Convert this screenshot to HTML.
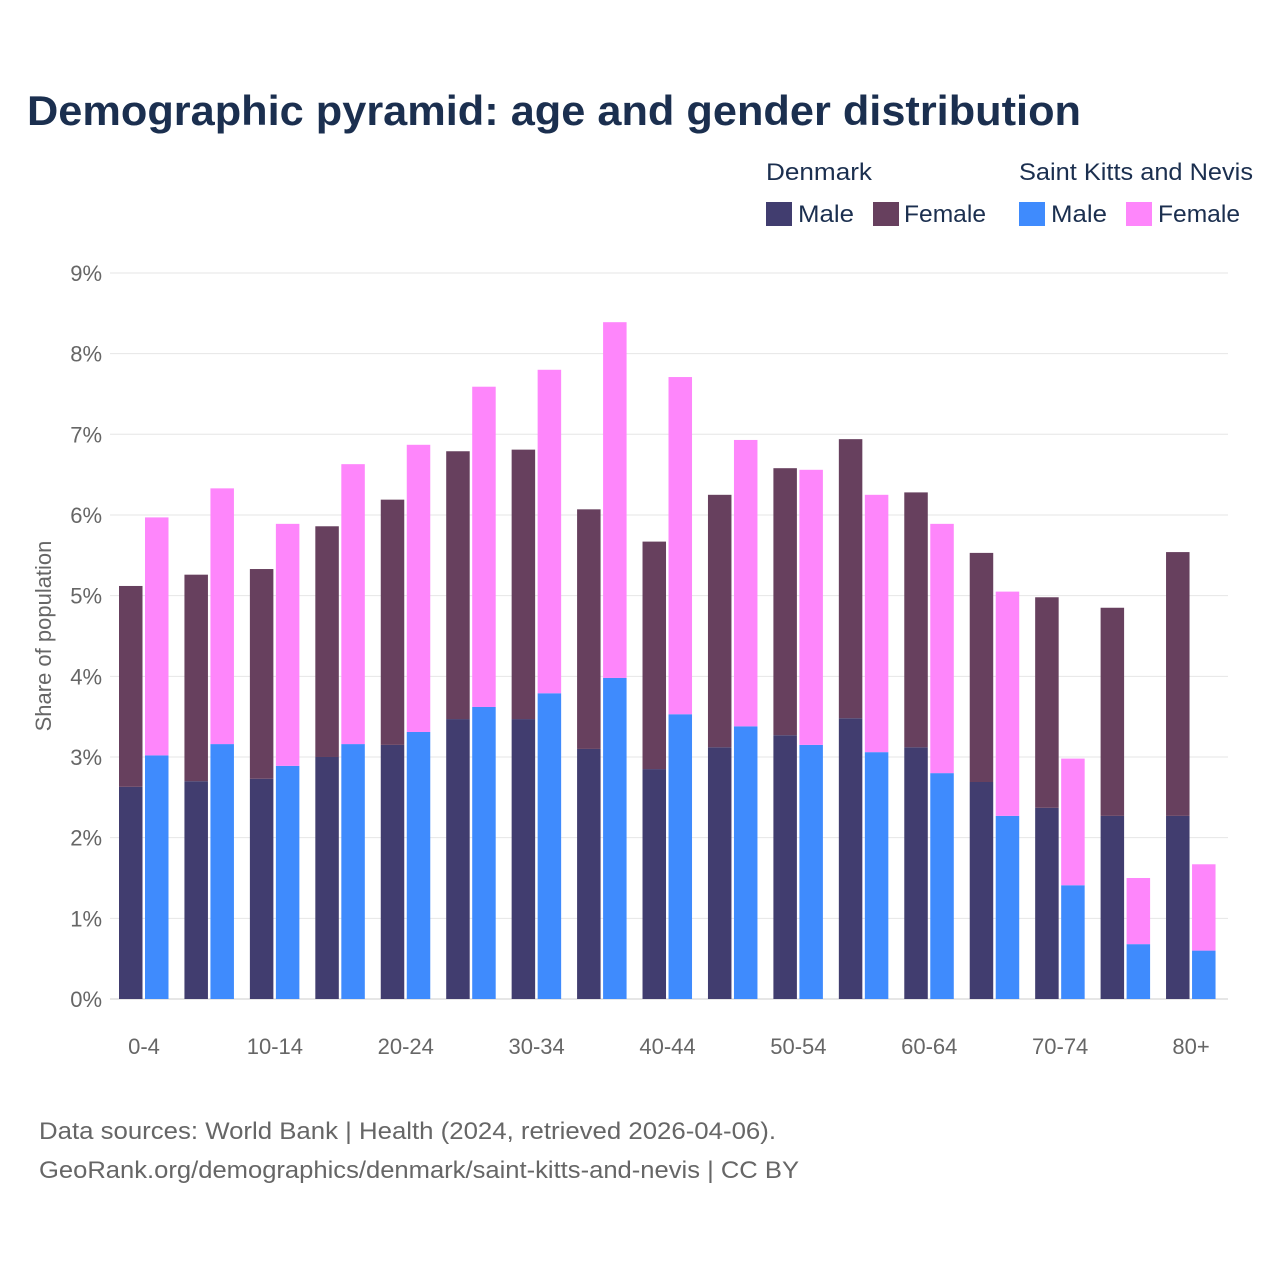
<!DOCTYPE html>
<html><head><meta charset="utf-8"><style>
body{margin:0;background:#fff;font-family:"Liberation Sans",sans-serif}
</style></head><body>
<svg id="chart" width="1280" height="1280" xmlns="http://www.w3.org/2000/svg">
<text x="27" y="125" font-size="42" font-weight="bold" fill="#1b2f4f" textLength="1054" lengthAdjust="spacingAndGlyphs">Demographic pyramid: age and gender distribution</text>
<g font-size="24" fill="#1b2f4f">
<text x="766" y="180" textLength="106" lengthAdjust="spacingAndGlyphs">Denmark</text>
<text x="1019" y="180" textLength="234" lengthAdjust="spacingAndGlyphs">Saint Kitts and Nevis</text>
<rect x="766" y="202" width="26" height="24" fill="#413d6f"/>
<text x="798" y="222" textLength="56" lengthAdjust="spacingAndGlyphs">Male</text>
<rect x="873" y="202" width="26" height="24" fill="#67405e"/>
<text x="904" y="222" textLength="82" lengthAdjust="spacingAndGlyphs">Female</text>
<rect x="1019" y="202" width="26" height="24" fill="#3f8bfd"/>
<text x="1051" y="222" textLength="56" lengthAdjust="spacingAndGlyphs">Male</text>
<rect x="1126" y="202" width="26" height="24" fill="#fe86fb"/>
<text x="1158" y="222" textLength="82" lengthAdjust="spacingAndGlyphs">Female</text>
</g>
<g id="grid"></g><g id="bars"></g><g id="xlab"></g>
<text transform="translate(51,636) rotate(-90)" text-anchor="middle" font-size="22" fill="#666">Share of population</text>
<text x="39" y="1139" font-size="24" fill="#666" textLength="737" lengthAdjust="spacingAndGlyphs">Data sources: World Bank | Health (2024, retrieved 2026-04-06).</text>
<text x="39" y="1178" font-size="24" fill="#666" textLength="760" lengthAdjust="spacingAndGlyphs">GeoRank.org/demographics/denmark/saint-kitts-and-nevis | CC BY</text>
</svg>
<script>
const categories=["0-4","5-9","10-14","15-19","20-24","25-29","30-34","35-39","40-44","45-49","50-54","55-59","60-64","65-69","70-74","75-79","80+"];
const dkMale=[2.63,2.70,2.73,3.00,3.15,3.47,3.47,3.10,2.85,3.12,3.27,3.48,3.12,2.69,2.37,2.27,2.27];
const dkFemale=[2.49,2.56,2.60,2.86,3.04,3.32,3.34,2.97,2.82,3.13,3.31,3.46,3.16,2.84,2.61,2.58,3.27];
const sknMale=[3.02,3.16,2.89,3.16,3.31,3.62,3.79,3.98,3.53,3.38,3.15,3.06,2.80,2.27,1.41,0.68,0.60];
const sknFemale=[2.95,3.17,3.00,3.47,3.56,3.97,4.01,4.41,4.18,3.55,3.41,3.19,3.09,2.78,1.57,0.82,1.07];
const yTicks=[0,1,2,3,4,5,6,7,8,9];
const NS="http://www.w3.org/2000/svg";
const y=v=>999-v*80.67;
const gx=i=>119+i*65.44;
function mk(p,t,a){const e=document.createElementNS(NS,t);for(const k in a)e.setAttribute(k,a[k]);p.appendChild(e);return e;}
const grid=document.getElementById('grid'),bars=document.getElementById('bars'),xl=document.getElementById('xlab');
yTicks.forEach(t=>{
 const l=mk(grid,'line',{x1:110,x2:1228,y1:y(t),y2:y(t),stroke:t?'#e6e6e6':'#ccc','stroke-width':1});
 
 
 const tx=mk(grid,'text',{x:102,y:y(t)+8,'text-anchor':'end','font-size':22,fill:'#666'});
 tx.textContent=t+'%';
 
 
});
categories.forEach((c,i)=>{
 const x0=gx(i),x1=x0+26;
 const specs=[[x0,0,dkMale[i],'#413d6f','bar-dk-male'],[x0,dkMale[i],dkFemale[i],'#67405e','bar-dk-female'],
  [x1,0,sknMale[i],'#3f8bfd','bar-skn-male'],[x1,sknMale[i],sknFemale[i],'#fe86fb','bar-skn-female']];
 specs.forEach(s=>{
  const r=mk(bars,'rect',{x:s[0],y:y(s[1]+s[2]),width:23.5,height:s[2]*80.67,fill:s[3]});
  
  
 });
 if(i%2==0){
  const t=mk(xl,'text',{x:x0+25,y:1054,'text-anchor':'middle','font-size':22,fill:'#666'});
  t.textContent=c;
  
  
 }
});
</script>
</body></html>
